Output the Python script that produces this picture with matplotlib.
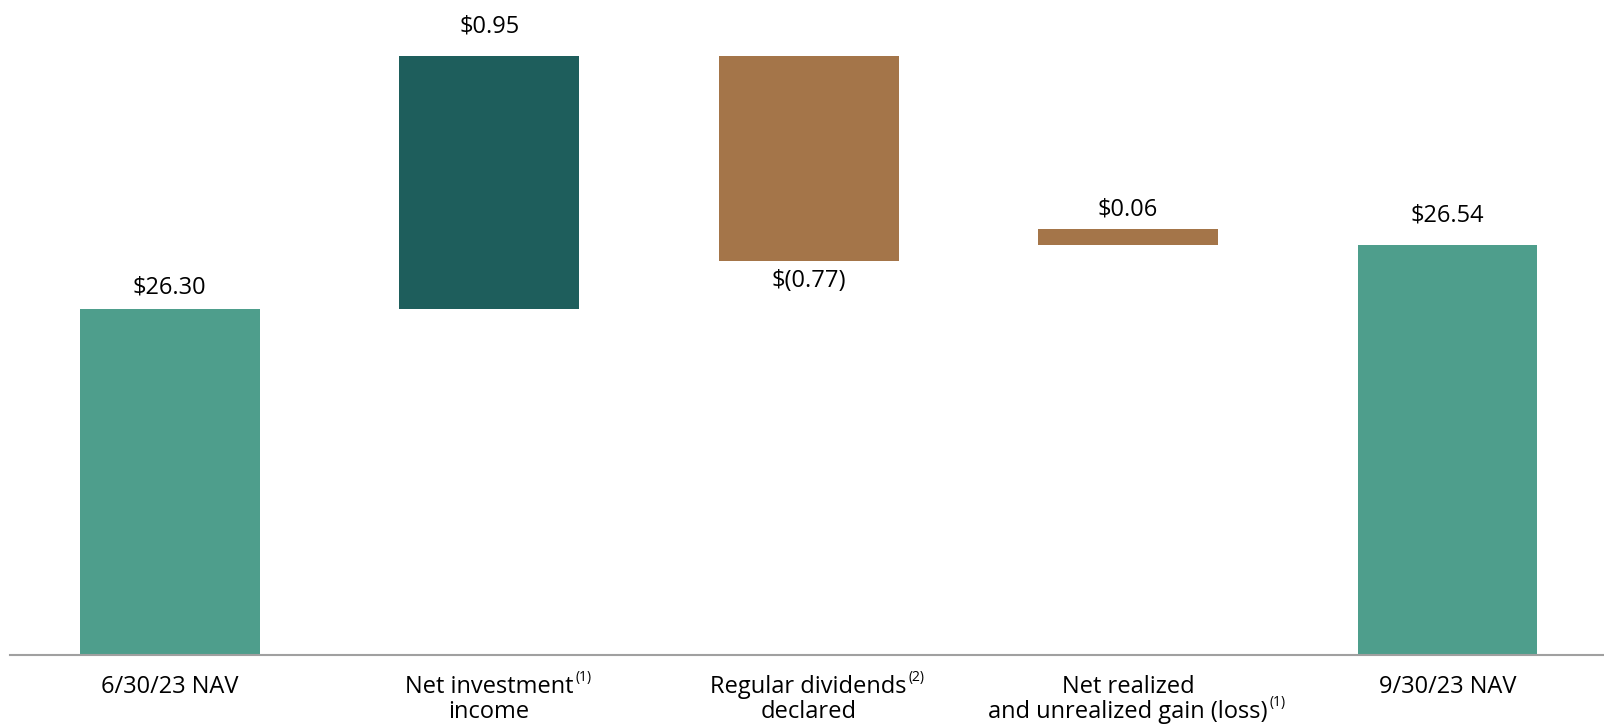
import matplotlib
matplotlib.use("Agg")
import matplotlib.pyplot as plt

# NAV bridge, quarter to quarter
start_label = "6/30/23 NAV"
end_label = "9/30/23 NAV"
start_nav = 26.30
end_nav = 26.54

step_labels = ["Net investment\nincome", "Regular dividends\ndeclared", "Net realized\nand unrealized gain (loss)"]
step_notes = ["(1)", "(2)", "(1)"]
step_values = [0.95, -0.77, 0.06]

#---------------------------------------------------------------------------------------------------------------------------

def money(v):
    if v < 0:
        return f"$({abs(v):.2f})"
    return f"${v:.2f}"

plt.rcParams['font.family'] = ['Open Sans', 'DejaVu Sans']

total_col = '#4e9e8c'
up_col = '#1e5e5c'
down_col = '#a47549'
fs = 17

fig = plt.figure(figsize=(16.04, 7.27), dpi=100)
ax = fig.add_axes([10/1604, 72/727, 1594/1604, 655/727])

labels = [start_label] + step_labels + [end_label]
notes = [""] + step_notes + [""]
base = 25.0
width = 0.563
# gap (points) between a value label and its bar
pads = [10.8, 17.3, 6, 10, 16.6]

def value_label(x, y, v, pad):
    if v < 0:
        ax.annotate(money(v), (x, y), xytext=(0, -pad), textcoords='offset points',
                    ha='center', va='top', fontsize=fs)
    else:
        ax.annotate(money(v), (x, y), xytext=(0, pad), textcoords='offset points',
                    ha='center', va='baseline', fontsize=fs)

# opening NAV
ax.bar(0, start_nav - base, bottom=base, width=width, color=total_col)
value_label(0, start_nav, start_nav, pads[0])

level = start_nav
for i, v in enumerate(step_values):
    x = i + 1
    lo = min(level, level + v)
    if i == len(step_values) - 1:
        lo = end_nav   # last step rests on the closing NAV
    col = up_col if i == 0 else down_col
    ax.bar(x, abs(v), bottom=lo, width=width, color=col)
    if v < 0:
        value_label(x, lo, v, pads[x])
    else:
        value_label(x, lo + v, v, pads[x])
    level += v

# closing NAV
n = len(labels) - 1
ax.bar(n, end_nav - base, bottom=base, width=width, color=total_col)
value_label(n, end_nav, end_nav, pads[n])

ax.set_xlim(-0.5, 4.49)
ax.set_ylim(base, base + 655/266.2)
for s in ['top', 'right', 'left']:
    ax.spines[s].set_visible(False)
ax.spines['bottom'].set_color('#a0a0a0')
ax.spines['bottom'].set_linewidth(1.5)
ax.set_yticks([])
ax.set_xticks([])

# category labels, one text per line so footnote marks sit on the longest line
tr = ax.get_xaxis_transform()
for x, (lab, note) in enumerate(zip(labels, notes)):
    lines = lab.split("\n")
    longest = max(range(len(lines)), key=lambda k: len(lines[k]))
    for k, line in enumerate(lines):
        dy = -27.6 - 18 * k
        t = ax.annotate(line, (x, 0), xycoords=tr, xytext=(0, dy),
                        textcoords='offset points', ha='center', va='baseline', fontsize=fs)
        if note and k == longest:
            ax.annotate(note, (1, 0), xycoords=(t, tr), xytext=(1.5, dy + 17),
                        textcoords='offset points', ha='left', va='top', fontsize=10)

fig.savefig("out.png", dpi=100)
